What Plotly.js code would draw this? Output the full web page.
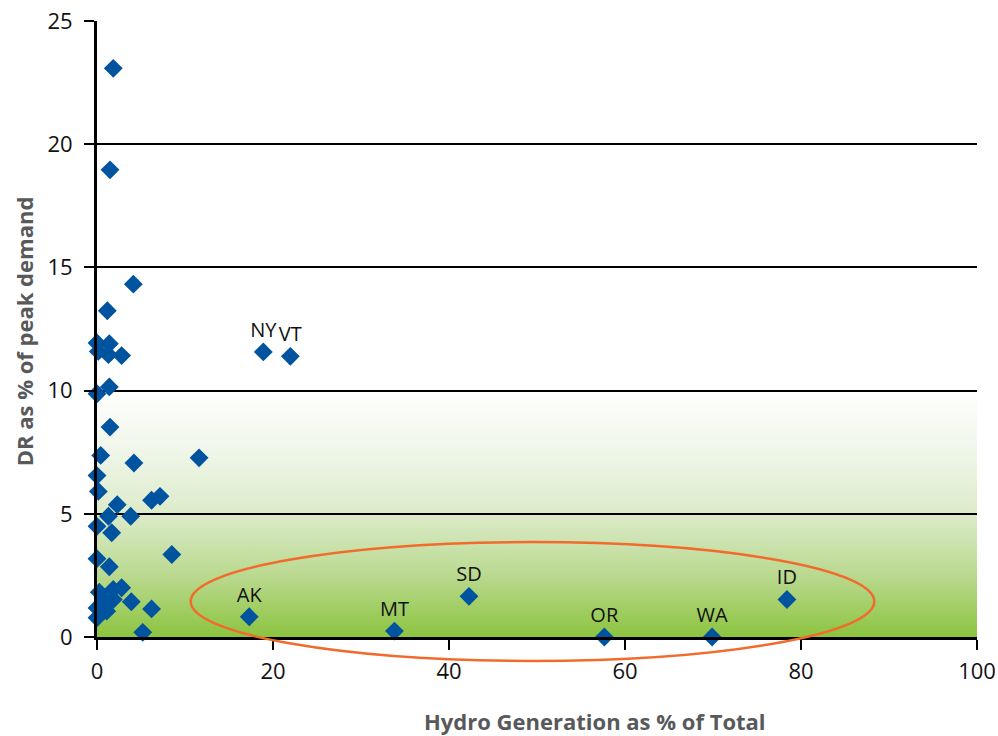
<!DOCTYPE html>
<html>
<head>
<meta charset="utf-8">
<script src="https://cdn.plot.ly/plotly-3.0.1.min.js"></script>
<style>html,body{margin:0;padding:0;background:#fff;}#chart{width:998px;height:736px;}</style>
</head>
<body>
<div id="chart"></div>
<script>
// Unlabeled states: hydro generation share (%) and DR as % of peak demand
const hydroPct = [1.85, 1.48, 4.13, 1.17, 0, 1.4, 0.15, 1.3, 2.8, 1.4, 0, 1.48, 0.42, 4.2, 11.6, 0, 0.15, 2.3, 6.2, 7.16, 3.83, 1.3, 0, 1.67, 8.5, 0, 1.4, 2.8, 1.85, 0.26, 1.85, 3.9, 0, 1.1, 6.2, 0, 5.2, 1.4, 2.16, 0.9];
const drPct    = [23.08, 18.96, 14.32, 13.24, 11.93, 11.9, 11.59, 11.46, 11.42, 10.15, 9.87, 8.52, 7.37, 7.06, 7.27, 6.55, 5.91, 5.37, 5.55, 5.71, 4.9, 4.9, 4.49, 4.23, 3.35, 3.18, 2.85, 2.0, 1.93, 1.82, 1.52, 1.43, 1.18, 1.05, 1.14, 0.78, 0.19, -0.07, -0.07, 1.5];

// Labeled states
const stateNames = ["NY", "VT", "AK", "MT", "SD", "OR", "WA", "ID"];
const stateHydro = [18.9, 21.97, 17.3, 33.8, 42.27, 57.65, 69.9, 78.4];
const stateDR    = [11.57, 11.39, 0.82, 0.24, 1.65, 0.0, 0.0, 1.52];

// Axis ticks
const xTicks = [0, 20, 40, 60, 80, 100];
const yTicks = [0, 5, 10, 15, 20, 25];

const markerColor = '#00539f';
const fontFam = '"Open Sans", "Noto Sans", sans-serif';

const gradSvg = '<svg xmlns="http://www.w3.org/2000/svg" width="10" height="100" preserveAspectRatio="none">' +
  '<defs><linearGradient id="g" x1="0" y1="0" x2="0" y2="1">' +
  '<stop offset="0" stop-color="#ffffff"/>' +
  '<stop offset="0.25" stop-color="#eff6e8"/>' +
  '<stop offset="0.5" stop-color="#dcebca"/>' +
  '<stop offset="0.75" stop-color="#bad98f"/>' +
  '<stop offset="1" stop-color="#8cc43f"/>' +
  '</linearGradient></defs><rect width="10" height="100" fill="url(#g)"/></svg>';
const gradUrl = 'data:image/svg+xml;base64,' + btoa(gradSvg);

const traces = [
  {
    type: 'scatter', mode: 'markers',
    x: hydroPct, y: drPct,
    marker: {symbol: 'diamond', size: 14.5, color: markerColor, line: {width: 0}},
    cliponaxis: false, hoverinfo: 'x+y'
  },
  {
    type: 'scatter', mode: 'markers+text',
    x: stateHydro, y: stateDR, text: stateNames,
    textposition: 'top center',
    textfont: {family: fontFam, size: 20, color: '#111111'},
    marker: {symbol: 'diamond', size: 14.5, color: markerColor, line: {width: 0}},
    cliponaxis: false, hoverinfo: 'x+y+text'
  }
];

const layout = {
  width: 998, height: 736,
  margin: {l: 97, r: 21, t: 21, b: 98.5, pad: 0},
  paper_bgcolor: '#ffffff', plot_bgcolor: '#ffffff',
  showlegend: false,
  font: {family: fontFam, size: 22, color: '#111111'},
  xaxis: {
    range: [0, 100], tickvals: xTicks, ticktext: xTicks.map(String),
    showgrid: false, zeroline: false,
    showline: true, linecolor: '#000000', linewidth: 3,
    ticks: 'outside', ticklen: 10, tickwidth: 2, tickcolor: '#000000',
    tickfont: {family: fontFam, size: 22, color: '#111111'},
    ticklabelstandoff: 3,
    fixedrange: true
  },
  yaxis: {
    range: [0, 25], tickvals: yTicks, ticktext: yTicks.map(String),
    showgrid: true, gridcolor: '#000000', gridwidth: 2,
    zeroline: false,
    showline: true, linecolor: '#000000', linewidth: 3,
    ticks: 'outside', ticklen: 10, tickwidth: 2, tickcolor: '#000000',
    tickfont: {family: fontFam, size: 22, color: '#111111'},
    ticklabelstandoff: 7,
    fixedrange: true
  },
  images: [{
    source: gradUrl, xref: 'x', yref: 'y', x: 0, y: 10, sizex: 100, sizey: 10,
    sizing: 'stretch', xanchor: 'left', yanchor: 'top', layer: 'below', opacity: 1
  }],
  shapes: [{
    type: 'circle', xref: 'x', yref: 'paper',
    x0: 10.65, x1: 88.33, y0: -0.0389, y1: 0.1541,
    line: {color: '#f26b2d', width: 2.5}, fillcolor: 'rgba(0,0,0,0)', layer: 'above'
  }],
  annotations: [
    {
      text: '<b>Hydro Generation as % of Total</b>', xref: 'paper', yref: 'paper',
      x: 0.566, y: -0.136, xanchor: 'center', yanchor: 'middle', showarrow: false,
      font: {family: fontFam, size: 22, color: '#58595b'}
    },
    {
      text: '<b>DR as % of peak demand</b>', xref: 'paper', yref: 'paper',
      x: -0.082, y: 0.496, xanchor: 'center', yanchor: 'middle', showarrow: false,
      textangle: -90,
      font: {family: fontFam, size: 22, color: '#58595b'}
    }
  ]
};

Plotly.newPlot('chart', traces, layout, {staticPlot: true, displayModeBar: false});
</script>
</body>
</html>
